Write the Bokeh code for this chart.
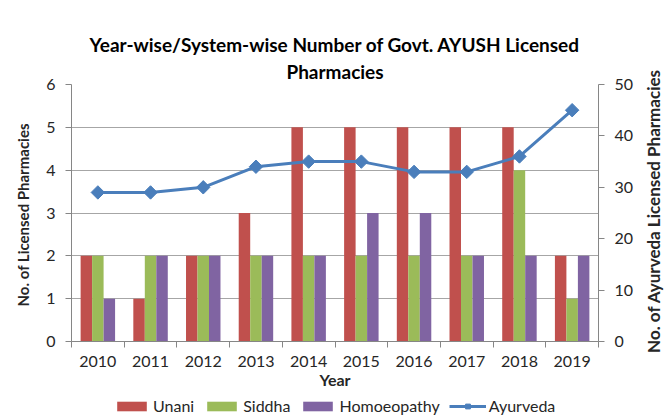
import math
from bokeh.plotting import figure
from bokeh.layouts import column, row
from bokeh.models import Range1d, LinearAxis, FixedTicker, Legend, LegendItem, Title
from bokeh.embed import file_html
from bokeh.resources import INLINE

years = ["2010", "2011", "2012", "2013", "2014", "2015", "2016", "2017", "2018", "2019"]
unani = [2, 1, 2, 3, 5, 5, 5, 5, 5, 2]
siddha = [2, 2, 2, 2, 2, 2, 2, 2, 4, 1]
homoeopathy = [1, 2, 2, 2, 2, 3, 3, 2, 2, 2]
ayurveda = [29, 29, 30, 34, 35, 35, 33, 33, 36, 45]

left_ticks = [0, 1, 2, 3, 4, 5, 6]
right_ticks = [0, 10, 20, 30, 40, 50]

FONT = "Lato"
TXT = "#262626"
AXC = "#868686"
C_U, C_S, C_H, C_A = "#C0504D", "#9BBB59", "#8064A2", "#4A7EBB"

n = len(years)
centers = [i + 0.5 for i in range(n)]
bw = 0.218

MAIN_W = 640

p = figure(width=MAIN_W, height=391, x_range=Range1d(0, n), y_range=Range1d(0, 6),
           output_backend="svg", toolbar_location=None, title=None,
           min_border_left=71, min_border_right=MAIN_W - 598, min_border_top=84, min_border_bottom=50)
p.extra_y_ranges = {"ay": Range1d(0, 50)}
p.outline_line_color = None

p.vbar(x=[c - bw for c in centers], top=unani, width=bw, fill_color=C_U, line_color=None)
p.vbar(x=centers, top=siddha, width=bw, fill_color=C_S, line_color=None)
p.vbar(x=[c + bw for c in centers], top=homoeopathy, width=bw, fill_color=C_H, line_color=None)
p.line(x=centers, y=ayurveda, y_range_name="ay", line_color=C_A, line_width=3)
p.scatter(x=centers, y=ayurveda, y_range_name="ay", marker="square", angle=math.pi / 4,
          size=9.5, fill_color=C_A, line_color=C_A)

p.xgrid.visible = False
p.ygrid.ticker = FixedTicker(ticks=left_ticks)
p.ygrid.grid_line_color = "#a6a6a6"

# x axis
xa = p.xaxis[0]
xa.ticker = FixedTicker(ticks=centers, minor_ticks=list(range(n + 1)))
xa.major_label_overrides = {c: y for c, y in zip(centers, years)}
xa.major_tick_line_color = None
xa.major_tick_out = 0
xa.major_tick_in = 0
xa.minor_tick_out = 6
xa.minor_tick_in = 0
xa.minor_tick_line_color = AXC
xa.axis_line_color = AXC
xa.axis_label = "Year"
xa.axis_label_text_font = FONT
xa.axis_label_text_font_style = "bold"
xa.axis_label_text_font_size = "16px"
xa.axis_label_text_color = TXT
xa.axis_label_standoff = 0
xa.major_label_text_font = FONT
xa.major_label_text_font_size = "16px"
xa.major_label_text_color = TXT
xa.major_label_standoff = 8

# left axis
ya = p.yaxis[0]
ya.ticker = FixedTicker(ticks=left_ticks)
ya.minor_tick_line_color = None
ya.major_tick_out = 6
ya.major_tick_in = 0
ya.major_tick_line_color = AXC
ya.axis_line_color = AXC
ya.axis_label = "No. of  Licensed Pharmacies"
ya.axis_label_text_font = FONT
ya.axis_label_text_font_style = "bold"
ya.axis_label_text_font_size = "15px"
ya.axis_label_text_color = TXT
ya.axis_label_standoff = 11
ya.major_label_text_font = FONT
ya.major_label_text_font_size = "16px"
ya.major_label_text_color = TXT
ya.major_label_standoff = 10

# right axis (its title is drawn in a narrow strip to the right)
ra = LinearAxis(y_range_name="ay", ticker=FixedTicker(ticks=right_ticks))
ra.minor_tick_line_color = None
ra.major_tick_out = 6
ra.major_tick_in = 0
ra.major_tick_line_color = AXC
ra.axis_line_color = AXC
ra.major_label_text_font = FONT
ra.major_label_text_font_size = "16px"
ra.major_label_text_color = TXT
ra.major_label_standoff = 10
p.add_layout(ra, "right")

t2 = Title(text="Pharmacies", align="center", text_font=FONT, text_font_size="19px",
           text_font_style="bold", text_color="#000000", standoff=3)
t1 = Title(text="Year-wise/System-wise Number of Govt. AYUSH Licensed", align="center",
           text_font=FONT, text_font_size="19px", text_font_style="bold", text_color="#000000",
           standoff=2)
p.add_layout(t2, "above")
p.add_layout(t1, "above")


def blank(fig):
    fig.axis.visible = False
    fig.xgrid.grid_line_color = None
    fig.ygrid.grid_line_color = None
    fig.xgrid.visible = False
    fig.ygrid.visible = False
    fig.outline_line_color = None


# legend strip
lf = figure(width=MAIN_W, height=26, x_range=Range1d(0, 1), y_range=Range1d(0, 1),
            output_backend="svg", toolbar_location=None, title=None, min_border=0)
blank(lf)
lu = lf.vbar(x=[0.5], top=[0], bottom=[0], width=0, fill_color=C_U, line_color=None)
ls = lf.vbar(x=[0.5], top=[0], bottom=[0], width=0, fill_color=C_S, line_color=None)
lh = lf.vbar(x=[0.5], top=[0], bottom=[0], width=0, fill_color=C_H, line_color=None)
ll = lf.line(x=[0.5, 0.5], y=[-5, -5], line_color=C_A, line_width=3)
lm = lf.scatter(x=[0.5], y=[-5], marker="square", angle=math.pi / 4, size=9.5, fill_color=C_A, line_color=C_A)

legend = Legend(items=[
    LegendItem(label="Unani", renderers=[lu]),
    LegendItem(label="Siddha", renderers=[ls]),
    LegendItem(label="Homoeopathy", renderers=[lh]),
    LegendItem(label="Ayurveda", renderers=[ll, lm]),
], orientation="horizontal", location=(42, 2))
legend.border_line_color = None
legend.background_fill_alpha = 0
legend.glyph_width = 37
legend.glyph_height = 12
legend.label_text_font = FONT
legend.label_text_font_size = "16px"
legend.label_text_color = TXT
legend.label_standoff = 3
legend.spacing = 9
legend.padding = 0
legend.margin = 0
lf.add_layout(legend, "center")

# right-hand strip carrying the secondary axis title (reads bottom-to-top)
tf = figure(width=668 - MAIN_W, height=417, x_range=Range1d(0, 1), y_range=Range1d(0, 1),
            output_backend="svg", toolbar_location=None, title=None,
            min_border=0, min_border_top=4)
blank(tf)
tf.add_layout(Title(text="No. of Ayurveda Licensed Pharmacies", align="center", text_font=FONT,
                    text_font_size="17px", text_font_style="bold", text_color=TXT, standoff=0), "left")

layout = row(column(p, lf, spacing=0), tf, spacing=0)
open("out.html", "w").write(file_html(layout, INLINE))
